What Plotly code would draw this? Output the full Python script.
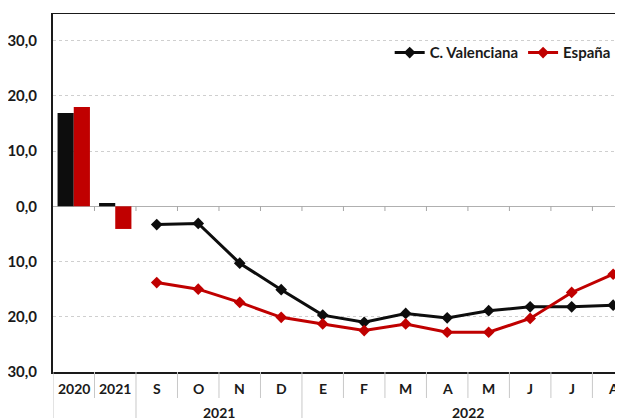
import plotly.graph_objects as go

# ── Data ──────────────────────────────────────────────────────────────────────
YEAR_CATS   = ['2020', '2021']
YEAR_CV     = [16.9, 0.6]
YEAR_ES     = [18.0, -4.1]

MONTH_CATS  = ['S', 'O', 'N', 'D', 'E', 'F', 'M', 'A', 'M', 'J', 'J', 'A']
MONTH_CV    = [-3.3, -3.1, -10.3, -15.1, -19.7, -21.0, -19.4, -20.2, -18.9, -18.2, -18.2, -17.9]
MONTH_ES    = [-13.8, -15.0, -17.4, -20.1, -21.3, -22.5, -21.3, -22.8, -22.8, -20.3, -15.6, -12.3]

GROUPS      = [('2021', 2, 5), ('2022', 6, 13)]   # label, first idx, last idx

Y_TICKS     = [-30, -20, -10, 0, 10, 20, 30]
Y_TICKTEXT  = ['30,0', '20,0', '10,0', '0,0', '10,0', '20,0', '30,0']

BLACK = '#0d0d0d'
RED   = '#c00000'
TXT   = '#1a1a1a'
FONT  = 'Lato, "Open Sans", Arial, sans-serif'

# ── Figure ────────────────────────────────────────────────────────────────────
cats = YEAR_CATS + MONTH_CATS
n = len(cats)
x_years  = list(range(len(YEAR_CATS)))
x_months = list(range(len(YEAR_CATS), n))

fig = go.Figure()

fig.add_trace(go.Bar(x=x_years, y=YEAR_CV, marker=dict(color=BLACK, line=dict(width=0)),
                     showlegend=False, name='C. Valenciana'))
fig.add_trace(go.Bar(x=x_years, y=YEAR_ES, marker=dict(color=RED, line=dict(width=0)),
                     showlegend=False, name='España'))

fig.add_trace(go.Scatter(x=x_months, y=MONTH_CV, mode='lines+markers', name='C. Valenciana',
                         line=dict(color=BLACK, width=3),
                         marker=dict(symbol='diamond', size=9, color=BLACK)))
fig.add_trace(go.Scatter(x=x_months, y=MONTH_ES, mode='lines+markers', name='España',
                         line=dict(color=RED, width=3),
                         marker=dict(symbol='diamond', size=9, color=RED)))

# top border of the plot area
fig.add_shape(type='line', xref='paper', yref='y', x0=0, x1=1, y0=35, y1=35,
              line=dict(color=TXT, width=2))

# small ticks on the zero line and separators under the axis
long_bounds = {-0.5, 1.5, 5.5}
for i in range(n):
    b = i - 0.5
    if i > 0:
        fig.add_shape(type='line', xref='x', yref='y', x0=b, x1=b, y0=0, y1=-0.85,
                      line=dict(color='#a6a6a6', width=1))
    fig.add_shape(type='line', xref='x', yref='paper', x0=b, x1=b, y0=0,
                  y1=-0.2 if b in long_bounds else -0.0725,
                  line=dict(color='#c8c8c8', width=1))

for i, lab in enumerate(cats):
    fig.add_annotation(x=i, y=-0.045, xref='x', yref='paper', text=f'<b>{lab}</b>',
                       showarrow=False, yanchor='middle',
                       font=dict(family=FONT, size=14, color=TXT))

for lab, a, b in GROUPS:
    fig.add_annotation(x=(a + b) / 2, y=-0.114, xref='x', yref='paper', text=f'<b>{lab}</b>',
                       showarrow=False, yanchor='middle',
                       font=dict(family=FONT, size=14, color=TXT))

fig.update_layout(
    width=623, height=418,
    margin=dict(l=45, r=0, t=5, b=54, autoexpand=False),
    paper_bgcolor='white', plot_bgcolor='white',
    barmode='group', bargap=0.22, bargroupgap=0,
    font=dict(family=FONT, size=14, color=TXT),
    legend=dict(orientation='h', x=0.5825, xanchor='left', y=0.889, yanchor='middle',
                font=dict(family=FONT, size=15, color=TXT, weight='bold'),
                bgcolor='rgba(0,0,0,0)', itemwidth=30, tracegroupgap=0),
    xaxis=dict(range=[-0.5, 13.43], showticklabels=False, showgrid=False,
               zeroline=False, showline=True, linecolor=TXT, linewidth=2,
               ticks=''),
    yaxis=dict(range=[-30, 35], tickvals=Y_TICKS, ticktext=Y_TICKTEXT,
               tickfont=dict(family=FONT, size=15, color=TXT, weight='bold'),
               showgrid=True, gridcolor='#cfcfcf', griddash='dot', gridwidth=1,
               zeroline=True, zerolinecolor='#b0b0b0', zerolinewidth=1,
               showline=True, linecolor=TXT, linewidth=2, ticks='',
               ticklabelstandoff=11),
)

fig.write_html("out.html")
